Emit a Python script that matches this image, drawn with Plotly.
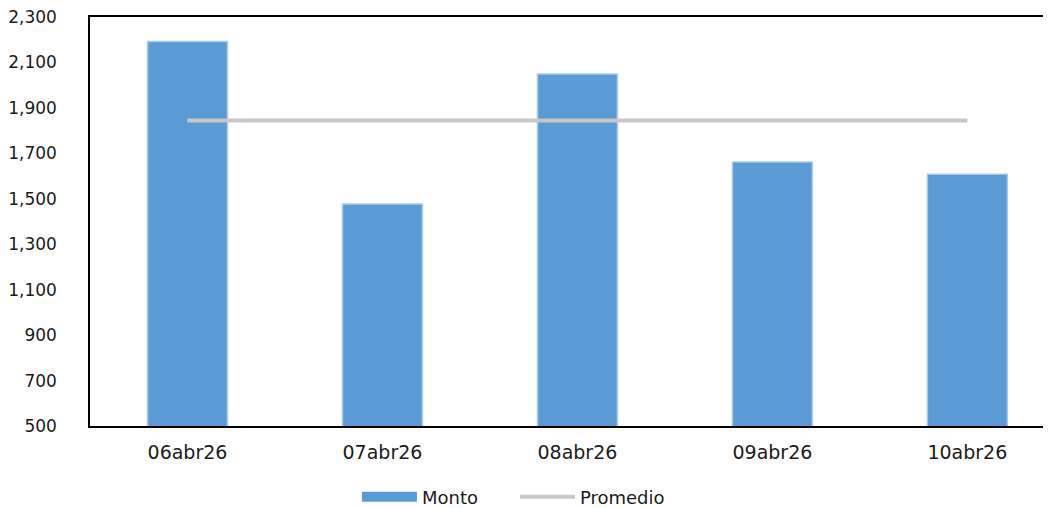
import plotly.graph_objects as go

fechas = ["06abr26", "07abr26", "08abr26", "09abr26", "10abr26"]
monto = [2192, 1477, 2049, 1662, 1608]
promedio = [1845, 1845, 1845, 1845, 1845]
y_ticks = [500, 700, 900, 1100, 1300, 1500, 1700, 1900, 2100, 2300]

FONT = "DejaVu Sans, sans-serif"
AZUL = "#5B9BD5"

fig = go.Figure()
fig.add_trace(go.Bar(
    x=fechas, y=monto, name="Monto", width=0.41, showlegend=False,
    marker=dict(color=AZUL, line=dict(color="#A9CBEB", width=1.5)),
))
# legend swatch for the bars, drawn as a wide block like the original
fig.add_trace(go.Scatter(
    x=[fechas[0]], y=[None], name="Monto", mode="lines",
    line=dict(color=AZUL, width=10),
))
fig.add_trace(go.Scatter(
    x=fechas, y=promedio, name="Promedio", mode="lines",
    line=dict(color="#C8C8C8", width=4),
))

# the page body adds ~8px of margin, so the margins are offset by that
fig.update_layout(
    width=1051, height=508,
    margin=dict(l=82, r=0, t=9, b=90),
    plot_bgcolor="white", paper_bgcolor="white",
    font=dict(family=FONT, size=19, color="#1a1a1a"),
    showlegend=True,
    legend=dict(orientation="h", x=0.2755, xanchor="left", y=-0.174, yanchor="middle",
                font=dict(size=18), traceorder="normal", itemwidth=55,
                entrywidth=88),
)
fig.update_xaxes(
    range=[-0.5, 4.47], showline=True, mirror=True, linecolor="black", linewidth=1.5,
    showgrid=False, ticks="", ticklabelstandoff=8, automargin=False,
)
fig.update_yaxes(
    range=[500, 2300], tickvals=y_ticks, tickformat=",", showline=True, mirror=False,
    linecolor="black", linewidth=1.5, showgrid=False, zeroline=False, ticks="",
    ticklabelstandoff=28, automargin=False, ticklabeloverflow="allow",
    tickfont=dict(size=17),
)

fig.write_html("out.html")
